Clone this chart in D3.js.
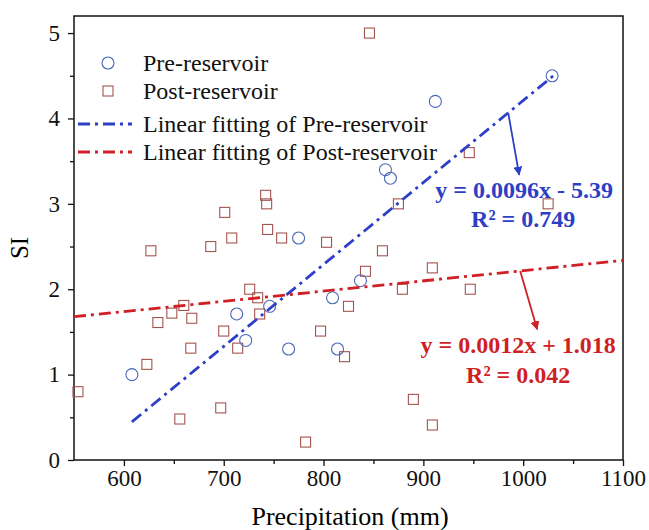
<!DOCTYPE html>
<html>
<head>
<meta charset="utf-8">
<script src="https://cdn.jsdelivr.net/npm/d3@7"></script>
<style>
  body { margin: 0; background: #fff; }
  text { font-family: "Liberation Serif", "Times New Roman", serif; }
  .axis text { font-size: 23px; fill: #111; font-family: "Liberation Serif", serif; }
  .axis path, .axis line { stroke: #111; stroke-width: 1.3; }
</style>
</head>
<body>
<div id="chart"></div>
<script>
// Pre-reservoir points (precipitation mm, SI)
var preX = [608, 713, 722, 746, 765, 775, 809, 814, 837, 862, 867, 912, 1029];
var preY = [1.0, 1.71, 1.4, 1.8, 1.3, 2.6, 1.9, 1.3, 2.1, 3.4, 3.3, 4.2, 4.5];

// Post-reservoir points
var postX = [554, 623, 627, 634, 648, 656, 660, 667, 668, 687, 697, 700, 701, 708, 714, 726,
             734, 736, 742, 743, 744, 758, 782, 797, 803, 821, 825, 842, 846, 859, 875, 879,
             890, 909, 909, 946, 947, 1025];
var postY = [0.8, 1.12, 2.45, 1.61, 1.72, 0.48, 1.81, 1.31, 1.66, 2.5, 0.61, 1.51, 2.9, 2.6, 1.31, 2.0,
             1.9, 1.71, 3.1, 3.0, 2.7, 2.6, 0.21, 1.51, 2.55, 1.21, 1.8, 2.21, 5.0, 2.45, 3.0, 2.0,
             0.71, 2.25, 0.41, 3.6, 2.0, 3.0];

// fits
var preFit = {slope: 0.0096, intercept: -5.39, from: 608, to: 1030};
var postFit = {slope: 0.0012, intercept: 1.018, from: 550, to: 1100};

var xTicks = [600, 700, 800, 900, 1000, 1100];
var xMinor = [650, 750, 850, 950, 1050];
var yTicks = [0, 1, 2, 3, 4, 5];
var yMinor = [0.5, 1.5, 2.5, 3.5, 4.5];

var legendLabels = ["Pre-reservoir", "Post-reservoir", "Linear fitting of Pre-reservoir", "Linear fitting of Post-reservoir"];

var blue = "#2d3fc6", red = "#d01f25", circCol = "#4a66b8", sqCol = "#a4544f";

var svg = d3.select("#chart")
      .append("svg")
      .attr("width", 649)
      .attr("height", 530);

margin = {top: 16, right: 26, bottom: 70, left: 74},
width = 649 - margin.left - margin.right,
height = 530 - margin.top - margin.bottom;

var defs = svg.append("defs");
[["arrBlue", blue], ["arrRed", red]].forEach(function(a) {
  defs.append("marker")
    .attr("id", a[0])
    .attr("viewBox", "0 0 10 10")
    .attr("refX", 9).attr("refY", 5)
    .attr("markerWidth", 5).attr("markerHeight", 5)
    .attr("orient", "auto")
    .append("path")
    .attr("d", "M0,0 L10,5 L0,10 z")
    .attr("fill", a[1]);
});

var g = svg.append("g").attr("transform", "translate(" + margin.left + "," + margin.top + ")");

var x = d3.scaleLinear().domain([550, 1100]).range([0, width]);
var y = d3.scaleLinear().domain([0, 5.2]).range([height, 0]);

// frame
g.append("rect")
  .attr("width", width).attr("height", height)
  .attr("fill", "none").attr("stroke", "#111").attr("stroke-width", 1.5);

g.append("g")
  .attr("class", "axis")
  .attr("transform", "translate(0," + height + ")")
  .call(d3.axisBottom(x).tickValues(xTicks).tickSize(6).tickSizeOuter(0).tickPadding(4).tickFormat(d3.format("d")));

g.append("g")
  .attr("class", "axis")
  .attr("transform", "translate(0," + height + ")")
  .call(d3.axisBottom(x).tickValues(xMinor).tickSize(4).tickSizeOuter(0).tickFormat(""));

g.append("g")
  .attr("class", "axis")
  .call(d3.axisLeft(y).tickValues(yTicks).tickSize(6).tickSizeOuter(0).tickPadding(8).tickFormat(d3.format("d")));

g.append("g")
  .attr("class", "axis")
  .call(d3.axisLeft(y).tickValues(yMinor).tickSize(4).tickSizeOuter(0).tickFormat(""));

g.selectAll(".axis .domain").remove();

// axis titles
svg.append("text")
  .attr("x", 350).attr("y", 525)
  .attr("text-anchor", "middle")
  .style("font-size", "26px")
  .text("Precipitation (mm)");

svg.append("text")
  .attr("transform", "translate(28," + 248 + ") rotate(-90)")
  .attr("text-anchor", "middle")
  .style("font-size", "25px")
  .text("SI");

// points
g.selectAll(".post")
  .data(postX.map(function(d, i) { return [d, postY[i]]; }))
  .enter().append("rect")
  .attr("x", function(d) { return x(d[0]) - 5; })
  .attr("y", function(d) { return y(d[1]) - 5; })
  .attr("width", 10).attr("height", 10)
  .attr("fill", "none").attr("stroke", sqCol).attr("stroke-width", 1.1);

g.selectAll(".pre")
  .data(preX.map(function(d, i) { return [d, preY[i]]; }))
  .enter().append("circle")
  .attr("cx", function(d) { return x(d[0]); })
  .attr("cy", function(d) { return y(d[1]); })
  .attr("r", 6)
  .attr("fill", "none").attr("stroke", circCol).attr("stroke-width", 1.1);

// fit lines
function fitLine(f, col) {
  g.append("line")
    .attr("x1", x(f.from)).attr("y1", y(f.slope * f.from + f.intercept))
    .attr("x2", x(f.to)).attr("y2", y(f.slope * f.to + f.intercept))
    .attr("stroke", col).attr("stroke-width", 2.8)
    .attr("stroke-dasharray", "12,5,3,5");
}
fitLine(preFit, blue);
fitLine(postFit, red);

// arrows
function arrow(f, xv, x2, y2, col, id) {
  g.append("line")
    .attr("x1", x(xv)).attr("y1", y(f.slope * xv + f.intercept))
    .attr("x2", x(x2)).attr("y2", y(y2))
    .attr("stroke", col).attr("stroke-width", 1.8)
    .attr("marker-end", "url(#" + id + ")");
}
arrow(preFit, 985, 996, 3.34, blue, "arrBlue");
arrow(postFit, 997, 1014, 1.53, red, "arrRed");

// equations
function eq(txt, xv, yv, col) {
  g.append("text")
    .attr("x", x(xv)).attr("y", y(yv))
    .attr("text-anchor", "middle")
    .attr("fill", col)
    .style("font-size", "24px").style("font-weight", "bold")
    .text(txt);
}
eq("y = 0.0096x - 5.39", 1001, 3.07, blue);
eq("R\u00B2 = 0.749", 1000, 2.73, blue);
eq("y = 0.0012x + 1.018", 995, 1.25, red);
eq("R\u00B2 = 0.042", 995, 0.9, red);

// legend
var lg = svg.append("g").attr("transform", "translate(0,0)");
var rows = [63, 91, 124, 152];
legendLabels.forEach(function(t, i) {
  lg.append("text")
    .attr("x", 143).attr("y", rows[i] + 8)
    .style("font-size", "24px")
    .attr("fill", "#111")
    .text(t);
});
lg.append("circle").attr("cx", 108).attr("cy", rows[0]).attr("r", 6)
  .attr("fill", "none").attr("stroke", circCol).attr("stroke-width", 1.1);
lg.append("rect").attr("x", 103).attr("y", rows[1] - 5).attr("width", 10).attr("height", 10)
  .attr("fill", "none").attr("stroke", sqCol).attr("stroke-width", 1.1);
[[rows[2], blue], [rows[3], red]].forEach(function(r) {
  lg.append("line")
    .attr("x1", 78).attr("x2", 132).attr("y1", r[0]).attr("y2", r[0])
    .attr("stroke", r[1]).attr("stroke-width", 2.8)
    .attr("stroke-dasharray", "12,5,3,5");
});
</script>
</body>
</html>
